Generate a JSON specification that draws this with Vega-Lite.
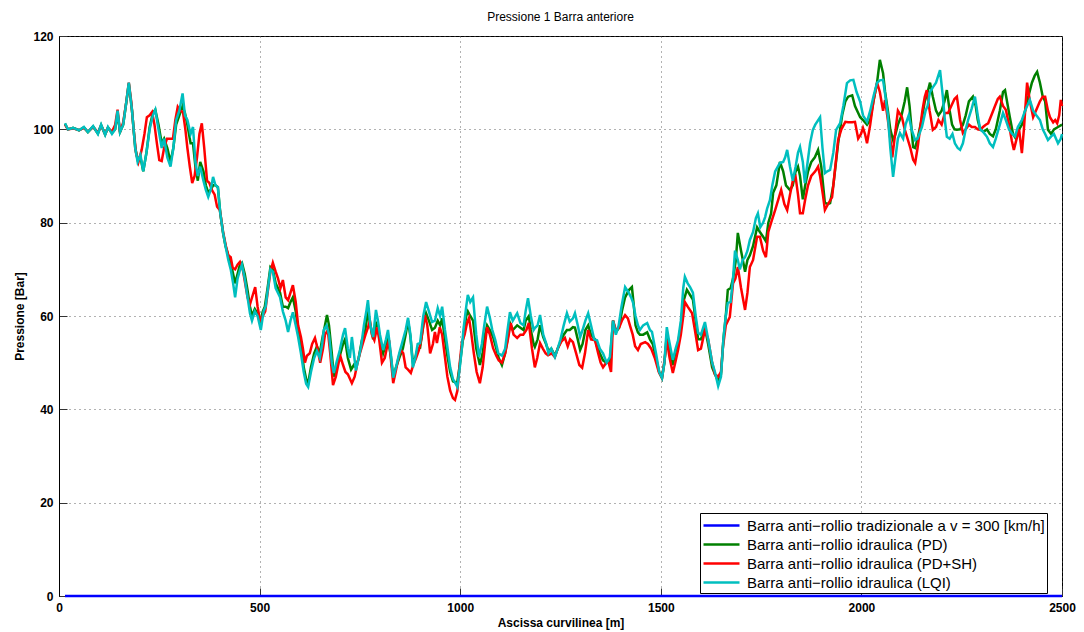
{
  "$schema": "https://vega.github.io/schema/vega-lite/v6.json",
  "width": 1003,
  "height": 560,
  "autosize": {"type": "none"},
  "padding": {"left": 59, "top": 36, "right": 22, "bottom": 36},
  "background": "white",
  "title": {"text": "Pressione 1 Barra anteriore", "font": "Liberation Sans", "fontSize": 12, "fontWeight": "normal", "color": "black", "offset": 6, "anchor": "middle"},
  "datasets": {
    "trad": [{"s": 15, "p": 0}, {"s": 2500, "p": 0}],
    "pd": [
      {"s":15,"p":101.2},{"s":22,"p":100},{"s":35,"p":100.3},{"s":50,"p":99.8},{"s":62,"p":100.4},{"s":72,"p":99.4},{"s":85,"p":100.6},{"s":97,"p":99.1},{"s":105,"p":100.9},{"s":115,"p":98.9},{"s":122,"p":100.4},{"s":132,"p":99.2},{"s":140,"p":100},{"s":146,"p":103.5},{"s":152,"p":99.4},{"s":160,"p":101},{"s":168,"p":106},{"s":174,"p":109.8},{"s":182,"p":104},{"s":190,"p":96},{"s":196,"p":93.5},{"s":203,"p":94},{"s":210,"p":91},{"s":218,"p":95},{"s":226,"p":100.5},{"s":234,"p":103.5},{"s":240,"p":104.2},{"s":248,"p":101},{"s":256,"p":97},{"s":262,"p":98},{"s":270,"p":96},{"s":278,"p":93},{"s":285,"p":96},{"s":292,"p":101},{"s":300,"p":103},{"s":308,"p":105},{"s":314,"p":103.5},{"s":320,"p":101},{"s":328,"p":97},{"s":334,"p":97},{"s":340,"p":92},{"s":346,"p":89},{"s":352,"p":93},{"s":360,"p":91},{"s":366,"p":88},{"s":372,"p":86.5},{"s":378,"p":87},{"s":384,"p":88},{"s":390,"p":88},{"s":396,"p":87.6},{"s":402,"p":82},{"s":409,"p":77.8},{"s":415,"p":75},{"s":422,"p":73},{"s":428,"p":71.5},{"s":434,"p":69},{"s":439,"p":67},{"s":445,"p":69},{"s":451,"p":71},{"s":456,"p":71.4},{"s":463,"p":69},{"s":470,"p":65.5},{"s":476,"p":62},{"s":481,"p":60},{"s":488,"p":61.5},{"s":495,"p":60.5},{"s":501,"p":58.5},{"s":508,"p":61},{"s":513,"p":62},{"s":520,"p":66},{"s":527,"p":70.5},{"s":533,"p":70},{"s":540,"p":67},{"s":551,"p":65},{"s":558,"p":62},{"s":565,"p":62},{"s":571,"p":61.7},{"s":577,"p":63},{"s":583,"p":64},{"s":590,"p":61},{"s":596,"p":57},{"s":603,"p":54},{"s":610,"p":49},{"s":616,"p":46.5},{"s":621,"p":45.5},{"s":628,"p":49},{"s":636,"p":52},{"s":643,"p":53.5},{"s":650,"p":52},{"s":656,"p":55},{"s":663,"p":58},{"s":668,"p":60.2},{"s":673,"p":58},{"s":680,"p":52},{"s":685,"p":47},{"s":693,"p":49.5},{"s":700,"p":51.5},{"s":708,"p":54},{"s":713,"p":55},{"s":720,"p":51},{"s":728,"p":48.5},{"s":735,"p":49.5},{"s":740,"p":49},{"s":747,"p":51},{"s":755,"p":54.8},{"s":762,"p":56},{"s":770,"p":61},{"s":776,"p":58},{"s":783,"p":55},{"s":790,"p":58.5},{"s":795,"p":57.5},{"s":800,"p":55},{"s":808,"p":52},{"s":815,"p":54},{"s":820,"p":55},{"s":827,"p":51.5},{"s":833,"p":47},{"s":840,"p":49},{"s":848,"p":51},{"s":857,"p":53},{"s":864,"p":56},{"s":870,"p":59},{"s":876,"p":55.5},{"s":882,"p":50},{"s":888,"p":51},{"s":894,"p":53},{"s":900,"p":53.2},{"s":908,"p":58},{"s":915,"p":60.6},{"s":922,"p":59},{"s":930,"p":57},{"s":937,"p":57.5},{"s":944,"p":59},{"s":950,"p":58},{"s":955,"p":59.5},{"s":962,"p":55},{"s":967,"p":52},{"s":975,"p":48},{"s":982,"p":46},{"s":988,"p":45.8},{"s":993,"p":46},{"s":999,"p":49.5},{"s":1004,"p":53},{"s":1010,"p":57},{"s":1015,"p":60},{"s":1019,"p":61},{"s":1025,"p":60},{"s":1032,"p":59},{"s":1040,"p":53},{"s":1049,"p":49.5},{"s":1056,"p":52},{"s":1062,"p":56},{"s":1067,"p":58},{"s":1074,"p":57},{"s":1082,"p":55.5},{"s":1090,"p":53},{"s":1096,"p":51},{"s":1104,"p":49.5},{"s":1112,"p":52},{"s":1118,"p":55},{"s":1124,"p":58.5},{"s":1131,"p":57},{"s":1142,"p":58},{"s":1150,"p":57.5},{"s":1158,"p":57},{"s":1163,"p":59},{"s":1171,"p":60},{"s":1176,"p":57},{"s":1183,"p":54},{"s":1186,"p":53.4},{"s":1193,"p":55},{"s":1199,"p":58},{"s":1207,"p":55.5},{"s":1214,"p":54},{"s":1220,"p":52.5},{"s":1227,"p":53},{"s":1236,"p":51.5},{"s":1243,"p":53},{"s":1250,"p":54.5},{"s":1258,"p":56},{"s":1266,"p":57},{"s":1273,"p":57},{"s":1281,"p":57.6},{"s":1286,"p":57.5},{"s":1293,"p":55},{"s":1299,"p":52.7},{"s":1305,"p":54},{"s":1312,"p":57},{"s":1319,"p":58},{"s":1326,"p":56},{"s":1336,"p":55},{"s":1341,"p":53.5},{"s":1348,"p":52},{"s":1356,"p":50.5},{"s":1365,"p":50},{"s":1373,"p":50},{"s":1381,"p":59},{"s":1388,"p":56.5},{"s":1396,"p":57.5},{"s":1403,"p":61},{"s":1411,"p":64},{"s":1420,"p":65.5},{"s":1428,"p":66.2},{"s":1433,"p":62},{"s":1437,"p":58},{"s":1443,"p":56.5},{"s":1448,"p":56},{"s":1456,"p":56},{"s":1466,"p":56.5},{"s":1473,"p":55},{"s":1480,"p":54},{"s":1488,"p":51},{"s":1496,"p":48},{"s":1503,"p":46.7},{"s":1509,"p":50},{"s":1515,"p":56},{"s":1520,"p":54},{"s":1530,"p":49.5},{"s":1537,"p":52.5},{"s":1543,"p":54},{"s":1550,"p":58},{"s":1556,"p":63},{"s":1565,"p":65.6},{"s":1573,"p":64.5},{"s":1580,"p":63.5},{"s":1587,"p":59},{"s":1593,"p":55},{"s":1600,"p":55},{"s":1610,"p":57.5},{"s":1618,"p":54},{"s":1628,"p":49},{"s":1635,"p":47.5},{"s":1643,"p":46},{"s":1650,"p":47.5},{"s":1656,"p":55},{"s":1662,"p":60},{"s":1667,"p":65.6},{"s":1674,"p":66},{"s":1680,"p":68},{"s":1687,"p":72},{"s":1692,"p":77.8},{"s":1700,"p":74},{"s":1710,"p":69.5},{"s":1716,"p":72},{"s":1722,"p":73},{"s":1730,"p":75},{"s":1740,"p":79},{"s":1747,"p":78},{"s":1755,"p":77},{"s":1762,"p":76},{"s":1768,"p":80},{"s":1775,"p":82},{"s":1780,"p":86.4},{"s":1788,"p":88},{"s":1797,"p":93},{"s":1805,"p":91},{"s":1812,"p":88},{"s":1822,"p":87},{"s":1829,"p":88},{"s":1836,"p":91},{"s":1842,"p":92},{"s":1847,"p":90},{"s":1854,"p":85},{"s":1860,"p":88},{"s":1867,"p":91},{"s":1875,"p":93},{"s":1884,"p":94},{"s":1892,"p":95.6},{"s":1900,"p":92},{"s":1909,"p":84.2},{"s":1917,"p":84},{"s":1922,"p":84.2},{"s":1930,"p":88},{"s":1942,"p":97},{"s":1952,"p":103},{"s":1960,"p":106},{"s":1967,"p":107},{"s":1977,"p":107.3},{"s":1984,"p":105},{"s":1992,"p":103.5},{"s":1997,"p":102.6},{"s":2004,"p":102},{"s":2014,"p":101},{"s":2022,"p":102},{"s":2030,"p":106},{"s":2039,"p":110},{"s":2046,"p":114.9},{"s":2054,"p":112},{"s":2059,"p":108},{"s":2066,"p":104},{"s":2072,"p":100},{"s":2079,"p":97.7},{"s":2085,"p":99},{"s":2091,"p":101},{"s":2100,"p":103},{"s":2108,"p":106},{"s":2114,"p":109},{"s":2120,"p":105},{"s":2129,"p":96.2},{"s":2134,"p":96},{"s":2140,"p":98},{"s":2150,"p":102},{"s":2158,"p":106},{"s":2165,"p":108},{"s":2171,"p":110},{"s":2178,"p":107},{"s":2186,"p":104},{"s":2192,"p":103},{"s":2200,"p":104},{"s":2207,"p":106},{"s":2213,"p":108.4},{"s":2220,"p":104},{"s":2226,"p":101},{"s":2232,"p":100},{"s":2238,"p":99.9},{"s":2246,"p":100},{"s":2253,"p":101},{"s":2260,"p":103},{"s":2268,"p":106},{"s":2278,"p":107},{"s":2285,"p":105},{"s":2290,"p":102},{"s":2296,"p":100},{"s":2305,"p":99.5},{"s":2313,"p":100},{"s":2320,"p":99},{"s":2328,"p":98.5},{"s":2335,"p":100},{"s":2345,"p":104},{"s":2353,"p":108},{"s":2358,"p":108.4},{"s":2365,"p":105},{"s":2370,"p":102.6},{"s":2378,"p":99},{"s":2385,"p":98},{"s":2393,"p":100},{"s":2400,"p":101},{"s":2408,"p":104},{"s":2416,"p":107},{"s":2425,"p":110},{"s":2432,"p":111.5},{"s":2438,"p":112.3},{"s":2445,"p":110},{"s":2452,"p":107},{"s":2458,"p":106},{"s":2465,"p":99.9},{"s":2473,"p":99},{"s":2480,"p":100},{"s":2490,"p":100.5},{"s":2500,"p":101}
    ],
    "pdsh": [
      {"s":15,"p":101},{"s":22,"p":100},{"s":35,"p":100.2},{"s":50,"p":99.8},{"s":62,"p":100.3},{"s":72,"p":99.5},{"s":85,"p":100.5},{"s":97,"p":99.3},{"s":105,"p":100.8},{"s":115,"p":99},{"s":122,"p":100.3},{"s":132,"p":99.5},{"s":140,"p":101},{"s":146,"p":104.2},{"s":152,"p":99.4},{"s":160,"p":101.5},{"s":168,"p":106},{"s":174,"p":110},{"s":180,"p":106},{"s":186,"p":100},{"s":192,"p":95},{"s":198,"p":93},{"s":206,"p":95.6},{"s":213,"p":99},{"s":219,"p":102.6},{"s":226,"p":103},{"s":232,"p":103.7},{"s":238,"p":101},{"s":244,"p":97},{"s":250,"p":93.4},{"s":256,"p":93.2},{"s":262,"p":96},{"s":269,"p":98},{"s":277,"p":98},{"s":284,"p":98},{"s":290,"p":102},{"s":296,"p":104.8},{"s":302,"p":104},{"s":309,"p":103.7},{"s":315,"p":100},{"s":320,"p":96},{"s":326,"p":92},{"s":332,"p":88.5},{"s":338,"p":90},{"s":344,"p":94},{"s":350,"p":99},{"s":356,"p":101.3},{"s":362,"p":96},{"s":369,"p":89},{"s":375,"p":88.5},{"s":381,"p":87},{"s":388,"p":86},{"s":394,"p":83.4},{"s":401,"p":82.7},{"s":409,"p":78},{"s":416,"p":75},{"s":422,"p":73},{"s":428,"p":72.6},{"s":433,"p":70.3},{"s":439,"p":70},{"s":445,"p":71},{"s":451,"p":71.6},{"s":458,"p":70},{"s":464,"p":67},{"s":470,"p":64},{"s":476,"p":62.5},{"s":483,"p":64.5},{"s":489,"p":66.2},{"s":495,"p":62},{"s":501,"p":59},{"s":508,"p":60},{"s":514,"p":61},{"s":520,"p":65},{"s":527,"p":69.5},{"s":533,"p":71.4},{"s":540,"p":69.5},{"s":546,"p":68},{"s":552,"p":66},{"s":558,"p":67.7},{"s":565,"p":64},{"s":571,"p":63.4},{"s":577,"p":65},{"s":583,"p":66.6},{"s":590,"p":63},{"s":596,"p":58},{"s":603,"p":55.5},{"s":608,"p":53},{"s":613,"p":50},{"s":618,"p":51.5},{"s":625,"p":52},{"s":631,"p":54},{"s":638,"p":55.3},{"s":643,"p":53.5},{"s":651,"p":50},{"s":658,"p":53},{"s":663,"p":56},{"s":670,"p":57},{"s":676,"p":52},{"s":683,"p":45.2},{"s":690,"p":47},{"s":697,"p":50},{"s":702,"p":51.2},{"s":708,"p":49.5},{"s":714,"p":48},{"s":720,"p":47.5},{"s":730,"p":45.6},{"s":737,"p":47},{"s":744,"p":50},{"s":750,"p":52},{"s":757,"p":54},{"s":764,"p":56},{"s":770,"p":57.5},{"s":775,"p":59},{"s":780,"p":56},{"s":786,"p":54.8},{"s":793,"p":57.6},{"s":798,"p":55},{"s":805,"p":50},{"s":812,"p":51},{"s":818,"p":53.5},{"s":823,"p":54.8},{"s":828,"p":50},{"s":833,"p":45.6},{"s":839,"p":48},{"s":846,"p":51},{"s":852,"p":52.7},{"s":858,"p":52},{"s":864,"p":49},{"s":870,"p":48.5},{"s":877,"p":47.8},{"s":883,"p":49.5},{"s":890,"p":51},{"s":897,"p":52.7},{"s":903,"p":55},{"s":912,"p":60.2},{"s":918,"p":58},{"s":925,"p":52},{"s":932,"p":54},{"s":937,"p":56.6},{"s":942,"p":54.2},{"s":949,"p":57.6},{"s":955,"p":56},{"s":962,"p":51.2},{"s":968,"p":47},{"s":975,"p":44},{"s":982,"p":42.4},{"s":987,"p":42},{"s":993,"p":44},{"s":999,"p":50},{"s":1004,"p":54.2},{"s":1011,"p":56},{"s":1017,"p":58.5},{"s":1022,"p":59.6},{"s":1028,"p":56},{"s":1034,"p":52},{"s":1041,"p":48},{"s":1049,"p":45.6},{"s":1056,"p":49},{"s":1062,"p":54},{"s":1067,"p":57.6},{"s":1074,"p":56},{"s":1082,"p":53.1},{"s":1090,"p":51.5},{"s":1096,"p":50.5},{"s":1104,"p":50},{"s":1112,"p":52},{"s":1119,"p":55},{"s":1126,"p":58.5},{"s":1133,"p":56},{"s":1142,"p":55.3},{"s":1150,"p":56},{"s":1157,"p":56},{"s":1165,"p":57},{"s":1171,"p":58.5},{"s":1179,"p":53},{"s":1186,"p":49},{"s":1192,"p":51},{"s":1199,"p":54.2},{"s":1206,"p":53},{"s":1213,"p":52},{"s":1219,"p":51.6},{"s":1228,"p":52},{"s":1236,"p":51.2},{"s":1243,"p":53},{"s":1252,"p":54.5},{"s":1261,"p":55.3},{"s":1268,"p":53.5},{"s":1274,"p":55},{"s":1281,"p":54.4},{"s":1289,"p":52},{"s":1297,"p":49.5},{"s":1304,"p":48.9},{"s":1311,"p":52},{"s":1319,"p":57},{"s":1326,"p":55},{"s":1336,"p":54.8},{"s":1344,"p":52},{"s":1350,"p":50},{"s":1356,"p":49},{"s":1364,"p":50},{"s":1370,"p":50},{"s":1376,"p":48},{"s":1381,"p":59},{"s":1388,"p":57},{"s":1396,"p":57.5},{"s":1403,"p":59},{"s":1411,"p":60.2},{"s":1418,"p":59.5},{"s":1423,"p":58},{"s":1430,"p":56},{"s":1436,"p":53.5},{"s":1443,"p":52.7},{"s":1450,"p":54},{"s":1461,"p":54.4},{"s":1468,"p":54},{"s":1476,"p":53},{"s":1485,"p":51},{"s":1495,"p":48},{"s":1503,"p":46.7},{"s":1510,"p":51},{"s":1515,"p":54.8},{"s":1522,"p":51},{"s":1530,"p":47.8},{"s":1536,"p":50},{"s":1543,"p":52.7},{"s":1550,"p":56},{"s":1556,"p":60},{"s":1560,"p":63},{"s":1567,"p":62},{"s":1578,"p":60.6},{"s":1585,"p":57},{"s":1593,"p":52.7},{"s":1600,"p":53},{"s":1610,"p":57},{"s":1618,"p":55},{"s":1628,"p":50},{"s":1635,"p":47.5},{"s":1643,"p":47},{"s":1650,"p":48},{"s":1655,"p":53.4},{"s":1662,"p":58},{"s":1672,"p":59.8},{"s":1680,"p":67},{"s":1686,"p":68},{"s":1692,"p":70.5},{"s":1700,"p":66},{"s":1710,"p":61.3},{"s":1716,"p":65},{"s":1722,"p":70.5},{"s":1730,"p":72},{"s":1740,"p":77},{"s":1747,"p":77},{"s":1755,"p":74},{"s":1762,"p":72.6},{"s":1768,"p":78},{"s":1775,"p":80},{"s":1785,"p":82.7},{"s":1793,"p":85},{"s":1800,"p":87},{"s":1808,"p":84},{"s":1815,"p":82.7},{"s":1822,"p":86},{"s":1829,"p":89},{"s":1836,"p":89.8},{"s":1842,"p":86},{"s":1847,"p":82},{"s":1854,"p":82},{"s":1860,"p":85},{"s":1867,"p":88},{"s":1875,"p":90},{"s":1885,"p":91},{"s":1892,"p":92},{"s":1897,"p":90},{"s":1904,"p":86},{"s":1909,"p":82.7},{"s":1917,"p":84},{"s":1927,"p":85.5},{"s":1935,"p":92},{"s":1942,"p":97.7},{"s":1950,"p":100},{"s":1960,"p":101.6},{"s":1967,"p":101.5},{"s":1977,"p":101.5},{"s":1984,"p":101.6},{"s":1992,"p":98},{"s":1999,"p":99},{"s":2004,"p":100.3},{"s":2009,"p":99},{"s":2014,"p":97},{"s":2022,"p":101},{"s":2030,"p":106},{"s":2039,"p":110},{"s":2046,"p":108},{"s":2054,"p":104},{"s":2059,"p":106.3},{"s":2066,"p":102},{"s":2072,"p":98},{"s":2077,"p":94},{"s":2084,"p":99},{"s":2091,"p":104},{"s":2101,"p":102.6},{"s":2108,"p":100},{"s":2115,"p":98},{"s":2122,"p":96},{"s":2129,"p":93.5},{"s":2134,"p":92.8},{"s":2140,"p":96},{"s":2146,"p":100},{"s":2152,"p":104},{"s":2158,"p":107},{"s":2163,"p":108.4},{"s":2170,"p":104},{"s":2178,"p":99.9},{"s":2186,"p":100.5},{"s":2192,"p":102},{"s":2200,"p":101},{"s":2208,"p":103.5},{"s":2216,"p":103.5},{"s":2224,"p":105},{"s":2232,"p":106.5},{"s":2238,"p":107},{"s":2246,"p":102},{"s":2253,"p":99.2},{"s":2260,"p":100},{"s":2268,"p":101},{"s":2275,"p":100.5},{"s":2283,"p":100.5},{"s":2290,"p":100},{"s":2296,"p":99.9},{"s":2303,"p":100.5},{"s":2310,"p":101},{"s":2316,"p":101.3},{"s":2324,"p":103},{"s":2333,"p":105},{"s":2340,"p":106.5},{"s":2345,"p":107},{"s":2353,"p":105},{"s":2360,"p":104.2},{"s":2368,"p":101},{"s":2375,"p":97.5},{"s":2380,"p":95.6},{"s":2387,"p":98},{"s":2393,"p":100},{"s":2400,"p":94.9},{"s":2405,"p":100},{"s":2413,"p":110},{"s":2420,"p":106},{"s":2428,"p":102.6},{"s":2435,"p":104},{"s":2445,"p":106},{"s":2452,"p":107},{"s":2458,"p":107},{"s":2465,"p":104},{"s":2470,"p":102.6},{"s":2478,"p":101.5},{"s":2483,"p":102},{"s":2488,"p":101.3},{"s":2493,"p":103},{"s":2497,"p":106.3},{"s":2500,"p":105}
    ],
    "lqi": [
      {"s":15,"p":101.3},{"s":22,"p":100},{"s":35,"p":100.3},{"s":50,"p":99.8},{"s":62,"p":100.5},{"s":72,"p":99.4},{"s":85,"p":100.7},{"s":97,"p":99},{"s":105,"p":101},{"s":115,"p":98.8},{"s":122,"p":100.5},{"s":132,"p":99},{"s":140,"p":100},{"s":146,"p":104},{"s":152,"p":99.4},{"s":160,"p":101},{"s":168,"p":106},{"s":174,"p":110},{"s":182,"p":104},{"s":190,"p":96},{"s":196,"p":93},{"s":203,"p":94.5},{"s":210,"p":91},{"s":218,"p":95},{"s":226,"p":100},{"s":234,"p":103},{"s":240,"p":104.2},{"s":248,"p":100},{"s":256,"p":96},{"s":262,"p":98},{"s":270,"p":94},{"s":278,"p":92},{"s":285,"p":96},{"s":292,"p":102},{"s":300,"p":104},{"s":308,"p":107.7},{"s":314,"p":103},{"s":320,"p":102},{"s":328,"p":99},{"s":334,"p":100.5},{"s":340,"p":93},{"s":346,"p":90},{"s":352,"p":92},{"s":360,"p":89},{"s":366,"p":87},{"s":372,"p":85.5},{"s":378,"p":87},{"s":384,"p":89.8},{"s":390,"p":88},{"s":396,"p":87.6},{"s":402,"p":82},{"s":409,"p":77.8},{"s":415,"p":75},{"s":422,"p":72},{"s":428,"p":70},{"s":434,"p":67},{"s":439,"p":64},{"s":445,"p":68},{"s":451,"p":69.8},{"s":456,"p":71},{"s":463,"p":68},{"s":470,"p":64},{"s":476,"p":60.6},{"s":481,"p":59},{"s":488,"p":61},{"s":495,"p":60},{"s":503,"p":57},{"s":510,"p":61},{"s":515,"p":62},{"s":521,"p":66},{"s":527,"p":70},{"s":533,"p":69.5},{"s":540,"p":66},{"s":551,"p":64},{"s":558,"p":61},{"s":565,"p":59},{"s":571,"p":56.6},{"s":577,"p":59},{"s":583,"p":60.8},{"s":590,"p":58},{"s":596,"p":55.5},{"s":603,"p":52},{"s":610,"p":48},{"s":616,"p":45.5},{"s":621,"p":44.8},{"s":628,"p":48},{"s":636,"p":51},{"s":643,"p":52.5},{"s":650,"p":51},{"s":656,"p":54},{"s":660,"p":57},{"s":667,"p":58},{"s":673,"p":56},{"s":680,"p":50},{"s":685,"p":47.8},{"s":693,"p":50.5},{"s":700,"p":52.7},{"s":708,"p":56},{"s":713,"p":57.4},{"s":720,"p":53},{"s":725,"p":51},{"s":730,"p":55.5},{"s":735,"p":52},{"s":740,"p":48.3},{"s":747,"p":51},{"s":753,"p":53.5},{"s":760,"p":58},{"s":766,"p":61},{"s":770,"p":63.4},{"s":776,"p":58},{"s":783,"p":55.5},{"s":790,"p":61.3},{"s":795,"p":59},{"s":800,"p":56},{"s":808,"p":52.7},{"s":815,"p":55},{"s":820,"p":57},{"s":827,"p":52},{"s":833,"p":46.8},{"s":840,"p":49},{"s":848,"p":52},{"s":857,"p":54.8},{"s":864,"p":57},{"s":870,"p":59.6},{"s":876,"p":56},{"s":882,"p":49},{"s":888,"p":51},{"s":894,"p":54},{"s":900,"p":54.2},{"s":908,"p":60},{"s":915,"p":63},{"s":922,"p":61},{"s":930,"p":58.7},{"s":937,"p":59},{"s":944,"p":61.7},{"s":950,"p":60},{"s":955,"p":62},{"s":962,"p":57},{"s":967,"p":54},{"s":975,"p":49},{"s":982,"p":46.5},{"s":988,"p":45.6},{"s":993,"p":44.8},{"s":999,"p":49},{"s":1004,"p":53},{"s":1008,"p":57},{"s":1015,"p":62},{"s":1019,"p":64.5},{"s":1025,"p":63},{"s":1032,"p":64},{"s":1040,"p":56},{"s":1047,"p":51.2},{"s":1054,"p":54},{"s":1060,"p":58},{"s":1067,"p":62},{"s":1074,"p":59.6},{"s":1080,"p":57},{"s":1087,"p":55},{"s":1095,"p":52},{"s":1104,"p":51.5},{"s":1112,"p":53},{"s":1118,"p":57},{"s":1124,"p":60.8},{"s":1131,"p":59},{"s":1142,"p":60.6},{"s":1150,"p":58.5},{"s":1158,"p":58},{"s":1163,"p":61},{"s":1169,"p":63.8},{"s":1176,"p":60},{"s":1183,"p":57},{"s":1186,"p":57.4},{"s":1193,"p":58},{"s":1199,"p":60.2},{"s":1207,"p":56},{"s":1214,"p":54.2},{"s":1220,"p":52},{"s":1227,"p":53},{"s":1236,"p":51.2},{"s":1243,"p":53},{"s":1250,"p":55},{"s":1258,"p":58},{"s":1266,"p":60.6},{"s":1273,"p":58.8},{"s":1281,"p":59.5},{"s":1286,"p":60.6},{"s":1293,"p":58},{"s":1299,"p":55.5},{"s":1305,"p":57},{"s":1312,"p":59},{"s":1319,"p":60.6},{"s":1326,"p":58},{"s":1334,"p":55},{"s":1341,"p":54.8},{"s":1348,"p":53},{"s":1356,"p":52},{"s":1365,"p":50},{"s":1373,"p":51.2},{"s":1381,"p":59},{"s":1388,"p":56},{"s":1395,"p":58},{"s":1402,"p":62},{"s":1411,"p":66.2},{"s":1420,"p":65},{"s":1426,"p":64},{"s":1431,"p":62.8},{"s":1437,"p":60},{"s":1443,"p":58},{"s":1448,"p":57},{"s":1456,"p":58},{"s":1466,"p":58.5},{"s":1473,"p":57},{"s":1478,"p":56.6},{"s":1488,"p":52},{"s":1496,"p":48},{"s":1503,"p":46.7},{"s":1509,"p":50},{"s":1515,"p":57.6},{"s":1520,"p":55},{"s":1530,"p":50.6},{"s":1537,"p":53},{"s":1543,"p":54.8},{"s":1550,"p":59},{"s":1556,"p":66},{"s":1560,"p":68.4},{"s":1567,"p":67},{"s":1573,"p":66.2},{"s":1580,"p":65},{"s":1587,"p":60},{"s":1593,"p":56.4},{"s":1600,"p":56},{"s":1610,"p":58.7},{"s":1618,"p":55},{"s":1628,"p":50},{"s":1635,"p":48},{"s":1643,"p":45},{"s":1650,"p":47},{"s":1656,"p":55},{"s":1662,"p":60},{"s":1667,"p":62.8},{"s":1674,"p":63},{"s":1680,"p":68},{"s":1685,"p":74},{"s":1692,"p":72},{"s":1697,"p":70},{"s":1704,"p":72},{"s":1710,"p":72.6},{"s":1716,"p":74},{"s":1722,"p":76.3},{"s":1730,"p":78},{"s":1737,"p":81},{"s":1742,"p":82},{"s":1748,"p":79},{"s":1755,"p":80},{"s":1760,"p":81.2},{"s":1765,"p":83},{"s":1772,"p":84.8},{"s":1778,"p":88},{"s":1785,"p":91},{"s":1797,"p":92.8},{"s":1805,"p":93},{"s":1810,"p":94},{"s":1815,"p":95.6},{"s":1822,"p":92},{"s":1829,"p":89},{"s":1836,"p":92},{"s":1842,"p":95},{"s":1847,"p":96.2},{"s":1854,"p":93},{"s":1859,"p":88.5},{"s":1866,"p":93},{"s":1872,"p":97},{"s":1879,"p":99.9},{"s":1885,"p":101},{"s":1897,"p":102.6},{"s":1903,"p":96},{"s":1909,"p":90.6},{"s":1915,"p":91},{"s":1922,"p":91.3},{"s":1930,"p":95},{"s":1937,"p":99.9},{"s":1947,"p":101.3},{"s":1955,"p":105},{"s":1964,"p":109.9},{"s":1972,"p":110.5},{"s":1980,"p":110.6},{"s":1988,"p":108},{"s":1997,"p":105.9},{"s":2004,"p":103},{"s":2014,"p":101.6},{"s":2022,"p":104},{"s":2030,"p":107},{"s":2039,"p":110},{"s":2046,"p":110.5},{"s":2054,"p":110.6},{"s":2060,"p":107},{"s":2066,"p":103},{"s":2072,"p":96},{"s":2079,"p":89.8},{"s":2085,"p":94},{"s":2091,"p":98},{"s":2096,"p":99.2},{"s":2104,"p":98},{"s":2110,"p":101},{"s":2118,"p":103},{"s":2125,"p":100},{"s":2134,"p":97.7},{"s":2140,"p":98},{"s":2151,"p":100.5},{"s":2160,"p":104},{"s":2165,"p":105},{"s":2171,"p":108},{"s":2178,"p":109},{"s":2186,"p":110},{"s":2196,"p":112.7},{"s":2203,"p":107},{"s":2208,"p":102},{"s":2213,"p":98.4},{"s":2220,"p":98},{"s":2227,"p":99},{"s":2233,"p":97},{"s":2240,"p":96},{"s":2246,"p":95.6},{"s":2253,"p":97},{"s":2260,"p":100},{"s":2266,"p":102},{"s":2275,"p":104.5},{"s":2283,"p":107},{"s":2290,"p":103},{"s":2296,"p":100},{"s":2303,"p":99.5},{"s":2313,"p":98.4},{"s":2320,"p":97},{"s":2328,"p":96.2},{"s":2335,"p":98},{"s":2345,"p":101},{"s":2353,"p":103.5},{"s":2360,"p":102},{"s":2368,"p":100},{"s":2376,"p":99},{"s":2383,"p":98.5},{"s":2390,"p":100.5},{"s":2400,"p":102},{"s":2408,"p":104},{"s":2413,"p":105},{"s":2420,"p":106.3},{"s":2428,"p":104},{"s":2436,"p":103},{"s":2445,"p":102},{"s":2452,"p":100},{"s":2458,"p":99},{"s":2465,"p":97.7},{"s":2473,"p":98.5},{"s":2480,"p":99},{"s":2490,"p":97},{"s":2497,"p":98},{"s":2500,"p":99}
    ]
  },
  "encoding": {
    "x": {"field": "s", "type": "quantitative", "scale": {"domain": [0, 2500], "nice": false, "zero": false},
      "axis": {"title": "Ascissa curvilinea [m]", "values": [0, 500, 1000, 1500, 2000, 2500], "format": "d", "labelFlush": false, "titlePadding": 4}},
    "y": {"field": "p", "type": "quantitative", "scale": {"domain": [0, 120], "nice": false},
      "axis": {"title": "Pressione [Bar]", "values": [0, 20, 40, 60, 80, 100, 120], "format": "d", "labelFlush": false, "titlePadding": 6}}
  },
  "layer": [
    {
      "data": {"name": "trad"},
      "mark": {"type": "line", "strokeWidth": 2.5},
      "encoding": {
        "color": {
          "datum": "Barra anti\u2212rollio tradizionale a v = 300 [km/h]",
          "type": "nominal",
          "scale": {
            "domain": [
              "Barra anti\u2212rollio tradizionale a v = 300 [km/h]",
              "Barra anti\u2212rollio idraulica (PD)",
              "Barra anti\u2212rollio idraulica (PD+SH)",
              "Barra anti\u2212rollio idraulica (LQI)"
            ],
            "range": ["#0000ff", "#008000", "#ff0000", "#00bfbf"]
          },
          "legend": {
            "orient": "none", "legendX": 641, "legendY": 477, "title": null,
            "symbolType": "M-1,0H3", "symbolSize": 324, "symbolStrokeWidth": 2.5, "symbolFillColor": "transparent",
            "strokeColor": "black", "fillColor": "white", "padding": 2,
            "labelFont": "Liberation Sans", "labelFontSize": 15, "labelColor": "black", "labelLimit": 0,
            "labelOffset": 24, "rowPadding": 0, "cornerRadius": 0
          }
        }
      }
    },
    {
      "data": {"name": "pd"},
      "mark": {"type": "line", "strokeWidth": 2.5},
      "encoding": {"color": {"datum": "Barra anti\u2212rollio idraulica (PD)", "type": "nominal"}}
    },
    {
      "data": {"name": "pdsh"},
      "mark": {"type": "line", "strokeWidth": 2.5},
      "encoding": {"color": {"datum": "Barra anti\u2212rollio idraulica (PD+SH)", "type": "nominal"}}
    },
    {
      "data": {"name": "lqi"},
      "mark": {"type": "line", "strokeWidth": 2.5},
      "encoding": {"color": {"datum": "Barra anti\u2212rollio idraulica (LQI)", "type": "nominal"}}
    }
  ],
  "config": {
    "view": {"stroke": "black", "strokeWidth": 1},
    "axis": {
      "grid": true, "gridColor": "#555555", "gridDash": [1, 4], "gridWidth": 1, "gridOpacity": 0.9,
      "domainColor": "black", "domainWidth": 1,
      "tickColor": "#333333", "tickSize": -8, "tickWidth": 1,
      "labelFont": "Liberation Sans", "labelFontSize": 12, "labelFontWeight": "bold", "labelColor": "black", "labelPadding": 14,
      "titleFont": "Liberation Sans", "titleFontSize": 12, "titleFontWeight": "bold", "titleColor": "black"
    }
  }
}
